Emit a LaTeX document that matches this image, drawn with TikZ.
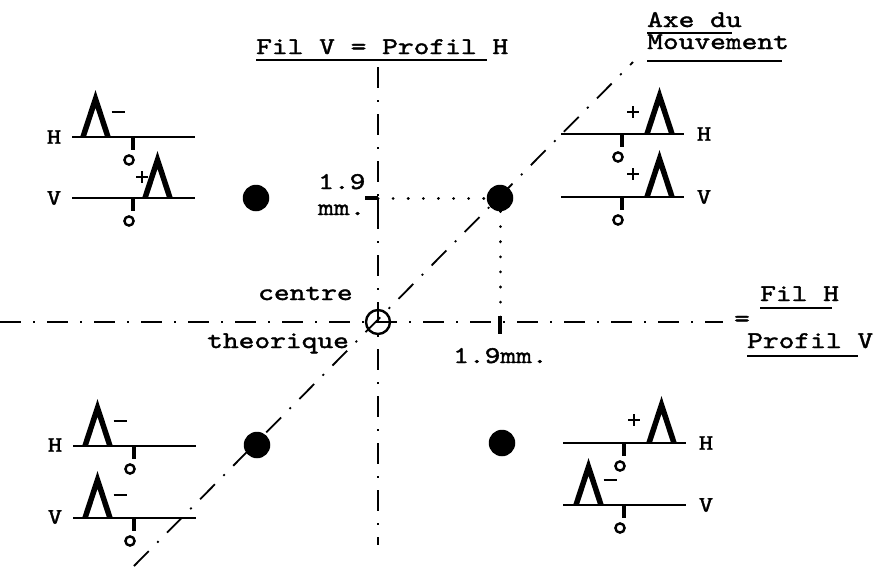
\documentclass[tikz,border=0pt]{standalone}
\usepackage{fontspec}
\newfontfamily\tw{lmmono10-regular.otf}[FakeStretch=1.25,FakeBold=1.6]
\begin{document}
\begin{tikzpicture}[x=1pt,y=-1pt,
  txt/.style={inner sep=0pt,font=\tw\fontsize{24}{25}\selectfont},
  lbl/.style={inner sep=0pt,font=\tw\fontsize{22}{22}\selectfont},
  axis/.style={line width=1.8pt,dash pattern=on 21pt off 12pt on 2pt off 12pt},
  dotl/.style={line width=3pt,line cap=round,dash pattern=on 0.1pt off 15pt},
  uline/.style={line width=2.2pt},
  base/.style={line width=2.6pt},
  tickm/.style={line width=4pt},
  ring/.style={line width=2.4pt},
  lam/.style={line width=5.5pt,line join=miter},
  sgn/.style={line width=2.8pt},
  bdot/.style={circle,fill=black,minimum size=26.5pt,inner sep=0pt},
  cring/.style={circle,draw=black,line width=2.4pt,minimum size=24pt,inner sep=0pt},
  pics/wavem/.style n args={3}{code={
    \draw[base] (0,0) -- (123,0);
    \draw[tickm] (61,0) -- (61,13);
    \draw[ring] (57,23) circle[radius=4.6pt];
    \draw[lam] ({#1+1},0) -- ({#1+13.5},-38) -- ({#1+26},0);
    \draw[sgn] ({#2-6.5},#3) -- ({#2+6.5},#3);
  }},
  pics/wavep/.style n args={3}{code={
    \draw[base] (0,0) -- (123,0);
    \draw[tickm] (61,0) -- (61,13);
    \draw[ring] (57,23) circle[radius=4.6pt];
    \draw[lam] ({#1+1},0) -- ({#1+13.5},-38) -- ({#1+26},0);
    \draw[sgn] ({#2-6},#3) -- ({#2+6},#3);
    \draw[sgn] (#2,{#3-6}) -- (#2,{#3+6});
  }}
]
\useasboundingbox (0,0) rectangle (879,566);

% axes
\coordinate (vtop) at (378,67);
\coordinate (vbot) at (378,545);
\coordinate (hl) at (0,322);
\coordinate (hr) at (723,322);
\coordinate (dtop) at (633,62);
\coordinate (dbot) at (134,566);
\draw[axis] (vtop) -- (vbot);
\draw[axis] (hl) -- (hr);
\draw[axis] (dbot) -- (dtop);
\node[cring] (c0) at (378,322) {};

% dots
\node[bdot] (d1) at (500,198) {};
\node[bdot] (d2) at (256,198) {};
\node[bdot] (d3) at (257,445) {};
\node[bdot] (d4) at (502,443) {};

% dotted guides and ticks
\coordinate (t1) at (378,198);
\coordinate (t2) at (500,322);
\draw[dotl] (t1) -- (d1);
\draw[dotl] (d1) -- (t2);
\draw[tickm] (365,198) -- (t1);
\draw[line width=2.5pt] (t1) -- (378,212);
\draw[tickm] (500,316) -- (500,334);

% signal glyphs
\pic at (72,137) {wavem={10}{46}{-25}};
\pic at (72,198) {wavep={72}{70}{-21}};
\pic at (561,134) {wavep={85}{72}{-22}};
\pic at (561,197) {wavep={85}{72}{-23}};
\pic at (73,446) {wavem={11}{47}{-25}};
\pic at (73,518) {wavem={11}{47}{-23}};
\pic at (563,443) {wavep={85}{71}{-23}};
\pic at (563,505) {wavem={12}{47}{-25}};

% H / V labels
\node[lbl] (lh1) at (54,137) {H};
\node[lbl] (lv1) at (54,198) {V};
\node[lbl] (lh2) at (704,134) {H};
\node[lbl] (lv2) at (704,197) {V};
\node[lbl] (lh3) at (55,445) {H};
\node[lbl] (lv3) at (55,517) {V};
\node[lbl] (lh4) at (706,443) {H};
\node[lbl] (lv4) at (706,505) {V};

% texts
\node[txt,anchor=base west] (title) at (256,54) {Fil V = Profil H};
\draw[uline] (256,60) -- (487,60);
\node[txt,anchor=base west] (axe) at (647,27) {Axe du};
\draw[uline] (647,33) -- (732,33);
\node[txt,anchor=base west] (mvt) at (647,49) {Mouvement};
\draw[uline] (647,61) -- (782,61);
\node[txt,anchor=base west] (centre) at (258,300) {centre};
\node[txt,anchor=base west] (theo) at (207,348) {theorique};
\node[txt,anchor=base west] (n19) at (318,189) {1.9};
\node[txt,anchor=base west] (nmm) at (318,215) {mm.};
\node[txt,anchor=base west] (n19mm) at (453,363) {1.9mm.};
\node[txt,anchor=base west] (filh) at (760,301) {Fil H};
\draw[uline] (760,308) -- (832,308);
\node[txt] (eq) at (742,321) {=};
\node[txt,anchor=base west] (profv) at (747,348) {Profil V};
\draw[uline] (747,356) -- (858,356);
\end{tikzpicture}
\end{document}
